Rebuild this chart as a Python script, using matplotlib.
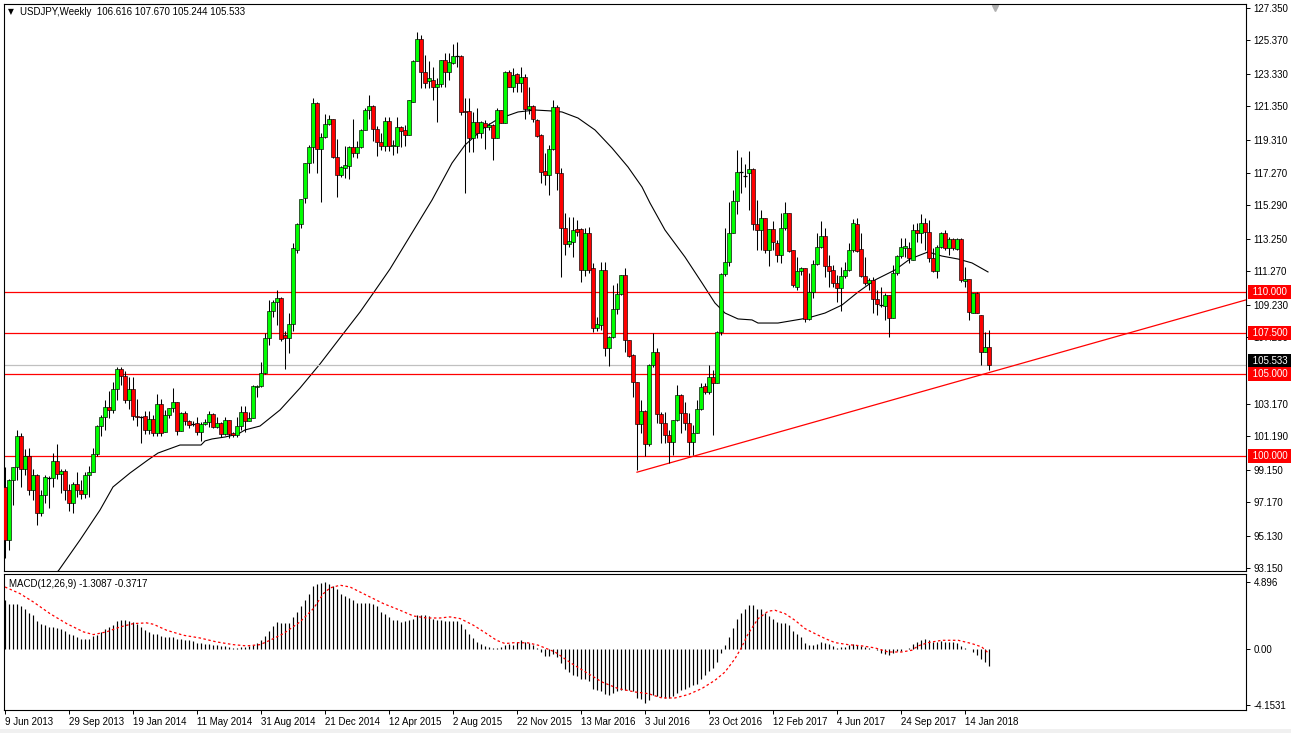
import matplotlib
matplotlib.use("Agg")
import matplotlib.pyplot as plt
import matplotlib.transforms as mtransforms
from matplotlib.patches import Rectangle

# ---------------- data (weekly USDJPY, bar 0 = week of 9 Jun 2013) ----------------
opens = [
    98.11, 94.86, 98.52, 99.30, 101.20, 99.20, 100.00, 97.90, 98.80, 96.50,
    97.60, 98.70, 98.65, 99.70, 98.90, 99.10, 97.90, 97.10, 98.30, 97.90,
    97.65, 98.80, 99.00, 100.10, 101.80, 102.40, 103.00, 102.80, 104.06, 105.28,
    104.90, 103.41, 104.08, 102.45, 102.35, 102.43, 101.60, 102.23, 101.40, 103.15,
    101.45, 102.50, 102.94, 103.27, 101.53, 102.64, 102.15, 101.95, 101.98, 101.48,
    101.94, 102.08, 102.53, 101.78, 102.03, 101.33, 102.18, 101.40, 101.25, 101.82,
    102.66, 102.15, 102.33, 104.20, 104.27, 105.04, 107.17, 108.84, 109.40, 109.65,
    107.38, 107.17, 108.05, 112.60, 114.16, 115.76, 117.90, 118.88, 121.53, 118.72,
    119.50, 120.25, 120.55, 118.27, 117.13, 117.60, 117.72, 118.84, 118.47, 118.88,
    119.90, 121.12, 121.36, 119.99, 119.19, 118.92, 120.45, 118.92, 118.92, 120.10,
    119.90, 119.60, 121.63, 124.10, 125.46, 123.46, 122.90, 122.95, 122.55, 122.69,
    124.20, 123.46, 123.97, 124.44, 124.44, 121.08, 121.08, 119.39, 120.41, 119.70,
    120.35, 120.06, 120.20, 119.39, 121.12, 120.35, 123.46, 122.55, 123.30, 122.75,
    123.16, 121.16, 121.37, 120.51, 119.59, 117.39, 117.15, 118.72, 121.32, 117.29,
    113.89, 112.94, 113.08, 113.83, 113.83, 111.35, 113.63, 111.45, 107.83, 107.99,
    111.33, 106.56, 107.28, 108.95, 109.88, 111.04, 107.07, 106.16, 104.53, 101.92,
    102.76, 100.70, 105.55, 106.36, 102.55, 102.03, 101.27, 100.82, 102.19, 103.71,
    102.60, 102.03, 100.86, 101.41, 102.84, 104.26, 103.92, 104.80, 104.43, 107.54,
    111.09, 111.86, 113.59, 115.56, 117.31, 117.10, 117.25, 117.50, 114.16, 113.79,
    114.50, 112.57, 113.83, 113.02, 112.26, 113.89, 114.81, 112.57, 110.33, 111.29,
    111.45, 108.34, 110.03, 111.71, 112.73, 113.42, 111.59, 111.35, 110.58, 110.23,
    110.98, 111.35, 112.57, 114.16, 112.61, 110.98, 110.58, 110.74, 109.56, 109.20,
    109.17, 109.82, 108.44, 111.15, 112.20, 112.70, 112.67, 111.96, 113.79, 113.59,
    114.24, 113.69, 112.06, 111.31, 112.77, 113.59, 112.67, 113.22, 112.61, 113.22,
    110.66, 110.78, 108.74, 109.92, 108.60, 106.36, 106.616,
]
highs = [
    99.34, 98.60, 99.30, 101.60, 101.40, 100.40, 100.50, 99.20, 98.90, 97.90,
    98.80, 98.75, 100.20, 100.70, 99.20, 99.20, 98.30, 98.40, 99.00, 98.50,
    99.00, 99.40, 100.50, 101.90, 102.50, 103.40, 103.97, 104.50, 105.44, 105.44,
    105.20, 104.80, 104.80, 103.45, 102.45, 102.74, 102.74, 102.50, 103.76, 103.50,
    102.80, 102.94, 104.12, 103.30, 102.70, 102.76, 102.20, 102.10, 102.40, 102.08,
    102.23, 102.76, 102.60, 102.40, 102.05, 102.40, 102.20, 101.47, 102.40, 103.06,
    103.06, 102.70, 104.33, 104.30, 105.75, 107.48, 109.52, 109.50, 110.13, 109.70,
    107.60, 108.70, 112.98, 114.20, 115.66, 117.90, 118.98, 121.83, 121.63, 119.70,
    120.90, 120.80, 120.60, 119.33, 117.70, 118.92, 118.92, 120.55, 119.25, 119.95,
    121.22, 122.04, 121.40, 120.15, 119.70, 120.71, 120.70, 119.30, 120.70, 120.15,
    120.20, 121.73, 124.17, 125.90, 125.70, 124.48, 124.10, 123.77, 123.05, 124.20,
    124.58, 124.58, 125.13, 125.30, 124.50, 121.83, 121.83, 121.02, 121.22, 120.45,
    120.51, 120.30, 120.25, 121.22, 121.15, 123.50, 123.56, 123.66, 123.35, 123.75,
    123.30, 122.50, 121.45, 120.60, 119.65, 118.47, 118.98, 121.73, 121.43, 117.56,
    114.81, 114.60, 114.60, 114.40, 113.90, 113.90, 113.99, 111.76, 108.50, 111.86,
    111.86, 107.30, 110.43, 110.57, 111.04, 111.45, 107.10, 106.20, 104.53, 103.41,
    102.80, 105.60, 107.48, 106.56, 102.70, 102.70, 101.60, 102.19, 104.33, 103.80,
    103.30, 102.60, 101.90, 103.41, 104.43, 104.43, 105.55, 105.24, 107.60, 111.19,
    113.89, 115.52, 116.24, 118.68, 118.27, 117.82, 118.62, 117.56, 115.63, 115.00,
    114.50, 113.83, 114.36, 113.20, 114.81, 115.52, 114.81, 112.57, 112.16, 111.55,
    111.45, 111.15, 111.96, 113.59, 114.36, 113.90, 112.26, 111.65, 111.05, 111.55,
    111.86, 112.98, 114.44, 114.50, 113.59, 112.16, 110.84, 110.94, 110.13, 110.33,
    109.92, 109.82, 111.65, 112.26, 113.28, 113.28, 113.08, 114.16, 114.20, 114.77,
    114.50, 114.40, 112.67, 112.88, 113.69, 113.79, 113.39, 113.28, 113.28, 113.28,
    111.55, 110.78, 109.92, 110.02, 108.60, 107.58, 107.670,
]
lows = [
    93.74, 94.25, 97.00, 98.50, 98.10, 98.80, 97.60, 97.30, 95.80, 96.30,
    97.10, 96.80, 98.10, 98.60, 97.70, 97.30, 96.60, 96.50, 97.50, 97.35,
    97.40, 97.50, 99.00, 100.00, 101.20, 101.60, 102.30, 102.60, 103.40, 104.30,
    103.20, 102.85, 102.20, 101.84, 100.76, 101.33, 101.33, 101.20, 101.20, 101.20,
    101.45, 102.30, 102.70, 101.27, 101.53, 101.88, 101.68, 101.80, 101.27, 100.93,
    101.88, 101.78, 101.68, 101.68, 101.17, 101.27, 101.07, 101.17, 101.17, 101.58,
    101.48, 102.10, 102.29, 103.60, 104.20, 105.00, 106.77, 108.50, 107.99, 107.00,
    105.30, 106.30, 107.60, 112.40, 113.90, 115.46, 117.25, 117.86, 117.25, 115.52,
    119.40, 120.20, 118.20, 115.83, 117.00, 116.95, 116.89, 118.27, 118.17, 118.80,
    119.90, 120.55, 119.25, 118.30, 118.68, 118.64, 118.60, 118.40, 118.50, 118.88,
    118.90, 119.60, 121.63, 124.10, 122.44, 122.44, 122.44, 121.73, 120.40, 122.55,
    122.55, 122.95, 123.90, 123.77, 120.80, 116.03, 118.58, 118.58, 119.39, 119.39,
    118.72, 119.90, 118.07, 119.39, 120.30, 120.30, 122.50, 122.24, 122.24, 122.24,
    120.55, 120.90, 120.40, 119.49, 116.64, 116.54, 115.93, 118.68, 116.23, 110.94,
    112.27, 112.77, 112.16, 113.40, 110.64, 111.00, 111.15, 107.58, 107.60, 107.68,
    106.10, 105.50, 107.20, 108.66, 109.85, 106.36, 106.05, 103.57, 99.13, 101.37,
    99.99, 100.60, 105.45, 101.98, 100.76, 100.76, 99.54, 100.05, 102.10, 101.37,
    101.58, 100.05, 100.05, 101.37, 102.80, 103.80, 103.80, 101.27, 104.43, 107.40,
    111.00, 111.59, 113.59, 114.77, 116.03, 116.44, 115.01, 113.79, 112.57, 112.57,
    112.37, 111.59, 112.57, 111.86, 111.76, 113.80, 112.47, 110.33, 110.13, 111.05,
    108.19, 108.30, 109.62, 111.65, 112.67, 110.94, 110.33, 110.33, 109.41, 108.87,
    110.84, 111.29, 112.47, 112.47, 110.94, 110.43, 110.13, 108.70, 108.60, 109.10,
    108.30, 107.28, 108.44, 111.04, 112.06, 112.16, 111.80, 111.96, 113.08, 112.98,
    112.57, 111.86, 111.25, 110.84, 112.67, 112.57, 112.27, 112.57, 112.57, 110.64,
    110.33, 108.29, 108.70, 108.70, 105.55, 106.36, 105.244,
]
closes = [
    94.86, 98.52, 99.30, 101.20, 99.20, 100.00, 97.90, 98.80, 96.50, 97.60,
    98.70, 98.65, 99.70, 98.90, 99.10, 97.90, 97.10, 98.30, 97.90, 97.65,
    98.80, 99.00, 100.10, 101.80, 102.40, 103.00, 102.80, 104.06, 105.28, 104.90,
    103.41, 104.08, 102.45, 102.35, 102.40, 101.60, 102.23, 101.40, 103.15, 101.40,
    102.50, 102.94, 103.27, 101.53, 102.64, 102.15, 101.90, 101.98, 101.48, 101.94,
    102.08, 102.53, 101.78, 102.03, 101.33, 102.18, 101.33, 101.25, 101.82, 102.66,
    102.15, 102.33, 104.27, 104.27, 105.05, 107.17, 108.84, 109.40, 109.65, 107.12,
    107.17, 108.05, 112.70, 114.16, 115.66, 117.90, 118.88, 121.53, 118.72, 119.50,
    120.25, 120.55, 118.27, 117.13, 117.66, 117.76, 118.84, 118.47, 118.88, 119.90,
    121.12, 121.36, 119.99, 119.19, 118.92, 120.45, 118.92, 118.98, 120.10, 119.84,
    119.60, 121.73, 124.10, 125.46, 123.46, 122.75, 123.10, 122.55, 122.69, 124.20,
    123.46, 124.03, 124.44, 124.44, 121.02, 121.00, 119.39, 120.41, 119.70, 120.41,
    120.06, 120.20, 119.39, 121.12, 120.35, 123.46, 122.55, 123.26, 122.75, 123.16,
    121.16, 121.37, 120.55, 119.53, 117.35, 117.15, 118.72, 121.32, 117.29, 113.89,
    112.94, 113.14, 113.79, 113.69, 111.35, 113.63, 111.35, 107.83, 108.03, 111.33,
    106.56, 107.28, 108.95, 109.88, 111.04, 107.07, 106.12, 104.53, 101.92, 102.76,
    100.70, 105.55, 106.36, 102.55, 102.03, 101.27, 100.82, 102.19, 103.71, 102.60,
    102.03, 100.86, 101.41, 102.84, 104.22, 103.92, 104.80, 104.43, 107.54, 111.09,
    111.86, 113.59, 115.56, 117.31, 117.30, 117.10, 117.50, 114.16, 113.79, 114.50,
    112.57, 113.83, 113.08, 112.26, 113.89, 114.81, 112.51, 110.43, 111.29, 111.45,
    108.34, 110.03, 111.71, 112.73, 113.42, 111.59, 111.31, 110.58, 110.23, 110.98,
    111.35, 112.57, 114.20, 112.53, 110.98, 110.58, 110.74, 109.56, 109.25, 109.25,
    109.82, 108.44, 111.15, 112.20, 112.77, 112.80, 112.10, 113.79, 113.59, 114.24,
    113.69, 112.06, 111.31, 112.77, 113.59, 112.67, 113.22, 112.67, 113.22, 110.74,
    110.78, 108.80, 109.92, 108.70, 106.36, 106.62, 105.533,
]

# moving average line, read at sample bars
ma_bar = [12, 13.5, 18.75, 23.75, 27, 31.25, 35.75, 38.25, 43.75, 49, 50, 51.75, 55, 58.25,
          60, 63.75, 68.75, 73.75, 78.75, 83.75, 88.75, 92.25, 96.25, 106.75, 111.75, 115,
          120, 123.25, 128.25, 132.5, 136.75, 139.25, 143.25, 147.5, 151.75, 155.75, 159.25,
          161.25, 165, 170, 174.25, 177.5, 180, 183.25, 186.75, 188.25, 193.25, 200.75, 205,
          209.25, 213.25, 217.5, 222.5, 226.25, 230.75, 234.25, 238.25, 241.75, 245.75]
ma_val = [92.6, 93.03, 94.86, 96.69, 98.10, 98.95, 99.75, 100.17, 100.66, 100.66, 100.91,
          101.03, 101.15, 101.33, 101.58, 101.82, 102.8, 104.14, 105.61, 107.2, 108.78,
          110.0, 111.41, 115.62, 117.88, 118.98, 120.08, 120.57, 121.0, 121.12, 121.06,
          121.0, 120.63, 119.9, 118.8, 117.64, 116.42, 115.44, 113.79, 112.14, 110.56,
          109.33, 108.72, 108.36, 108.30, 108.11, 108.11, 108.42, 108.72, 109.21, 110.0,
          110.74, 111.35, 112.02, 112.45, 112.2, 112.02, 111.78, 111.23]

# MACD(12,26,9) main (histogram)
macd = [
    3.55, 3.31, 3.26, 3.26, 3.11, 2.94, 2.65, 2.45, 2.01, 1.79,
    1.72, 1.59, 1.59, 1.52, 1.47, 1.27, 1.08, 1.03, 0.86, 0.74,
    0.74, 0.74, 0.91, 1.03, 1.23, 1.42, 1.59, 1.72, 2.03, 2.08,
    2.08, 2.03, 1.96, 1.84, 1.59, 1.35, 1.23, 1.10, 1.05, 0.93,
    0.86, 0.86, 0.86, 0.74, 0.74, 0.66, 0.61, 0.54, 0.44, 0.42,
    0.37, 0.37, 0.29, 0.29, 0.20, 0.20, 0.12, 0.05, 0.05, 0.12,
    0.12, 0.20, 0.29, 0.42, 0.61, 0.91, 1.27, 1.67, 1.96, 1.91,
    1.91, 1.91, 2.33, 2.70, 3.11, 3.55, 4.04, 4.58, 4.73, 4.83,
    4.896, 4.78, 4.61, 4.36, 4.04, 3.87, 3.73, 3.55, 3.38, 3.36,
    3.36, 3.36, 3.31, 3.11, 2.70, 2.57, 2.33, 2.13, 2.08, 1.96,
    2.01, 2.08, 2.21, 2.45, 2.45, 2.45, 2.38, 2.21, 2.13, 2.08,
    2.01, 2.01, 2.01, 2.01, 1.84, 1.47, 1.05, 0.78, 0.49, 0.37,
    0.20, 0.12, 0.02, 0.05, 0.15, 0.29, 0.37, 0.29, 0.49, 0.61,
    0.49, 0.42, 0.29, 0.05, -0.25, -0.54, -0.54, -0.37, -0.61, -1.03,
    -1.47, -1.72, -1.91, -2.01, -2.25, -2.25, -2.40, -2.99, -3.06, -3.14,
    -3.31, -3.38, -3.24, -3.14, -3.06, -3.06, -3.06, -3.14, -3.63, -3.73,
    -3.97, -3.80, -3.38, -3.48, -3.55, -3.63, -3.63, -3.48, -3.24, -3.06,
    -2.94, -2.82, -2.65, -2.57, -2.25, -1.96, -1.67, -1.42, -0.98, -0.29,
    0.29, 0.86, 1.52, 2.16, 2.65, 2.89, 3.19, 3.19, 2.94, 2.89,
    2.65, 2.40, 2.21, 1.96, 1.91, 1.91, 1.72, 1.27, 1.10, 0.86,
    0.44, 0.29, 0.29, 0.37, 0.49, 0.44, 0.37, 0.20, 0.05, 0.12,
    0.12, 0.29, 0.37, 0.29, 0.20, 0.12, 0.05, -0.05, -0.12, -0.29,
    -0.37, -0.49, -0.32, -0.20, -0.20, -0.05, 0.05, 0.37, 0.49, 0.61,
    0.69, 0.61, 0.49, 0.49, 0.54, 0.49, 0.49, 0.49, 0.44, 0.20,
    0.05, -0.05, -0.25, -0.49, -0.74, -0.98, -1.3087,
]
# MACD signal line, read at sample bars
sig_bar = [0, 3.75, 7.08, 11.25, 15.4, 19.6, 22.1, 25.4, 28.75, 32.1, 35.4, 37.1, 40.4, 44.6,
           48.75, 52.9, 57.1, 60.4, 63.75, 66.25, 69.6, 73.75, 77.1, 79.6, 81.25, 83.75, 86.25,
           90.4, 94.6, 98.75, 102.1, 105.4, 108.75, 111.25, 113.75, 117.1, 120.4, 122.9, 125,
           127.5, 130.8, 133.3, 137.5, 141.7, 145.8, 149.2, 153.3, 157.5, 160.8, 164.2, 167.5,
           170.8, 174.2, 177.5, 180, 182.5, 184.2, 185.8, 188.3, 190.8, 192.5, 195, 197.5, 200,
           202.5, 205, 207.5, 210.8, 214.2, 217.5, 220.8, 224.2, 226.7, 228.3, 230.8, 234.2,
           238.3, 241.7, 244.2, 246]
sig_val = [4.53, 4.04, 3.43, 2.57, 1.84, 1.23, 1.03, 1.23, 1.59, 1.84, 1.89, 1.79, 1.35, 0.98,
           0.78, 0.49, 0.29, 0.20, 0.29, 0.61, 1.10, 1.96, 2.94, 4.04, 4.46, 4.66, 4.53,
           3.92, 3.31, 2.82, 2.40, 2.25, 2.25, 2.33, 2.21, 1.72, 1.10, 0.61, 0.37,
           0.44, 0.42, 0.25, -0.25, -1.10, -1.84, -2.45, -2.94, -3.19, -3.31, -3.63, -3.63,
           -3.38, -2.94, -2.33, -1.72, -0.74, 0.12, 1.10, 2.21, 2.75, 2.82, 2.57, 2.08, 1.47,
           1.10, 0.74, 0.44, 0.29, 0.20, 0.05, -0.25, -0.25, -0.12, 0.20, 0.44, 0.61,
           0.61, 0.37, 0.12, -0.3717]

# horizontal levels and trend line
red_levels = [110.0, 107.5, 105.0, 100.0]
bid_price = 105.533
trend_bar = [158, 246.25]
trend_val = [99.0, 105.1]

price_ticks = [127.350, 125.370, 123.330, 121.350, 119.310, 117.270, 115.290, 113.250,
               111.270, 109.230, 107.250, 103.170, 101.190, 99.150, 97.170, 95.130, 93.150]
macd_ticks = [4.896, 0.0, -4.1531]
macd_tick_labels = ["4.896", "0.00", "-4.1531"]
date_bars = [0, 16, 32, 48, 64, 80, 96, 112, 128, 144, 160, 176, 192, 208, 224, 240]
date_labels = ["9 Jun 2013", "29 Sep 2013", "19 Jan 2014", "11 May 2014", "31 Aug 2014",
               "21 Dec 2014", "12 Apr 2015", "2 Aug 2015", "22 Nov 2015", "13 Mar 2016",
               "3 Jul 2016", "23 Oct 2016", "12 Feb 2017", "4 Jun 2017", "24 Sep 2017",
               "14 Jan 2018"]

# ---------------- figure ----------------
plt.rcParams["font.family"] = ["Liberation Sans", "DejaVu Sans"]
W, H = 1291, 733
fig = plt.figure(figsize=(W / 100, H / 100), dpi=100)
fig.patch.set_facecolor("white")
FS = 7.0


def rect(x0, y0, x1, y1):
    return [x0 / W, 1 - y1 / H, (x1 - x0) / W, (y1 - y0) / H]


# bottom gray strip
fig.patches.append(Rectangle((0, 0), 1, 4.5 / H, transform=fig.transFigure,
                             facecolor="#f0f0f0", edgecolor="none", zorder=-5))

ax = fig.add_axes(rect(4, 4, 1246, 571))
ax2 = fig.add_axes(rect(4, 574, 1246, 710))

n = len(closes)
bars = list(range(n))
xmin, xmax = -0.25, 310.25
ax.set_xlim(xmin, xmax)
ax.set_ylim(92.966, 127.594)

GREEN = "#00ff00"
RED = "#ff0000"
bw = 0.8
ax.vlines(bars, lows, highs, color="black", linewidth=0.75, zorder=3)
for i in bars:
    o, c = opens[i], closes[i]
    lo, hi = min(o, c), max(o, c)
    if hi - lo < 0.06:
        ax.hlines((o + c) / 2, i - bw / 2, i + bw / 2, color="black", linewidth=0.9, zorder=4)
    else:
        ax.add_patch(Rectangle((i - bw / 2, lo), bw, hi - lo,
                               facecolor=GREEN if c > o else RED,
                               edgecolor="black", linewidth=0.45, zorder=4))

# moving average
ax.plot(ma_bar, ma_val, color="black", linewidth=0.8, zorder=2)

# levels
for lv in red_levels:
    ax.axhline(lv, color="#ff0000", linewidth=0.9, zorder=2.5)
ax.axhline(bid_price, color="#c0c0c0", linewidth=0.9, zorder=2)
slope = (trend_val[1] - trend_val[0]) / (trend_bar[1] - trend_bar[0])
ax.plot([trend_bar[0], xmax], [trend_val[0], trend_val[0] + slope * (xmax - trend_bar[0])],
        color="#ff0000", linewidth=0.9, zorder=2.5)

# axes styling
for a in (ax, ax2):
    for s in a.spines.values():
        s.set_color("black")
        s.set_linewidth(0.8)
    a.set_facecolor("white")

ax.yaxis.tick_right()
ax.set_yticks(price_ticks)
ax.set_yticklabels([f"{t:.3f}" for t in price_ticks])
ax.tick_params(axis="y", direction="out", length=3, width=0.7, pad=2.5, labelsize=FS,
               colors="black")
ax.set_xticks([])

# right side labels
trans = mtransforms.blended_transform_factory(ax.transAxes, ax.transData)
ax.text(1.003, bid_price + 0.25, f" {bid_price:.3f} ", transform=trans, ha="left",
        va="center", fontsize=FS, color="white", zorder=10, clip_on=False,
        bbox=dict(boxstyle="square,pad=0.2", facecolor="black", edgecolor="none"))
for lv in red_levels:
    ax.text(1.003, lv, f" {lv:.3f} ", transform=trans, ha="left", va="center",
            fontsize=FS, color="white", zorder=11, clip_on=False,
            bbox=dict(boxstyle="square,pad=0.2", facecolor="#ff0000", edgecolor="none"))

# title
ax.text(0.0035, 0.987, "\u25bc", transform=ax.transAxes, fontsize=5.5, va="center", ha="left",
        family="DejaVu Sans")
ax.text(0.0125, 0.986, "USDJPY,Weekly  106.616 107.670 105.244 105.533",
        transform=ax.transAxes, fontsize=FS, va="center", ha="left")
# chart shift marker
ax.plot([0.798], [0.993], marker="v", markersize=5, color="#b0b0b0",
        transform=ax.transAxes, clip_on=False)

# ---------------- MACD ----------------
ax2.set_xlim(xmin, xmax)
ax2.set_ylim(-4.515, 5.485)
ax2.vlines(bars, 0, macd, color="black", linewidth=0.85)
ax2.plot(sig_bar, sig_val, color="#ff0000", linewidth=0.9, linestyle=(0, (2, 2)))
ax2.yaxis.tick_right()
ax2.set_yticks(macd_ticks)
ax2.set_yticklabels(macd_tick_labels)
ax2.tick_params(axis="y", direction="out", length=3, width=0.7, pad=2.5, labelsize=FS)
ax2.set_xticks(date_bars)
ax2.set_xticklabels(date_labels)
ax2.tick_params(axis="x", direction="out", length=3, width=0.7, pad=2, labelsize=FS)
for lbl in ax2.get_xticklabels():
    lbl.set_ha("left")
ax2.text(0.004, 0.93, "MACD(12,26,9) -1.3087 -0.3717", transform=ax2.transAxes,
         fontsize=FS, va="center", ha="left")

fig.savefig("out.png", dpi=100, facecolor="white")
